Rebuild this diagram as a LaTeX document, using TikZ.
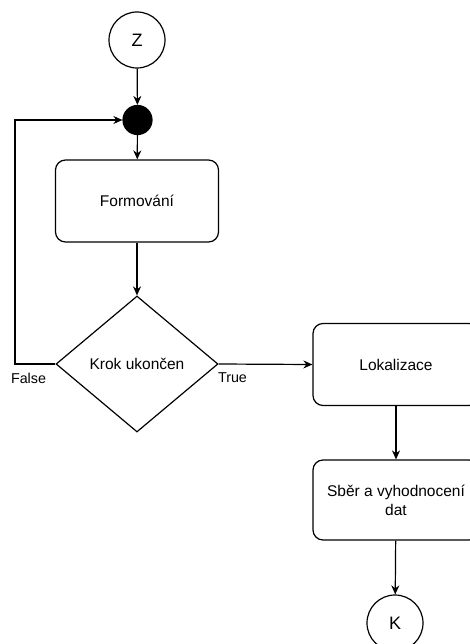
\documentclass[tikz,border=0pt]{standalone}
\usepackage{fontspec}
\setmainfont{Liberation Sans}
\usetikzlibrary{positioning}
\usetikzlibrary{arrows.meta}
\usetikzlibrary{shapes.geometric}

\begin{document}
\begin{tikzpicture}[x=1pt,y=-1pt,line width=1.2pt,>={Stealth[length=9pt,width=8pt]}]
\tikzstyle{term}=[draw,shape=circle,minimum size=56pt,inner sep=0pt,font=\fontsize{18}{20}\selectfont]
\tikzstyle{dot}=[draw,shape=circle,fill=black,minimum size=29pt,inner sep=0pt]
\tikzstyle{proc}=[draw,rounded corners=10pt,minimum width=163pt,minimum height=82pt,align=center,font=\fontsize{15.5}{19}\selectfont]
\tikzstyle{cond}=[draw,shape=diamond,minimum width=162pt,minimum height=136pt,inner sep=0pt,font=\fontsize{15.5}{19}\selectfont]
\tikzstyle{lbl}=[font=\fontsize{14.3}{16}\selectfont]

\useasboundingbox (0,0) rectangle (470,644); % page

% start and loop point
\draw (137,40) node[term] (Z) {Z}; % Z
\draw (137.5,120) node[dot] (join) {}; % join

% left column
\draw (137,201) node[proc] (form) {Formování}; % Formovani
\draw (137,364) node[cond] (krok) {Krok ukončen}; % Krok ukonceno

% right column
\draw (396,364.5) node[proc,minimum width=166pt] (lok) {Lokalizace}; % Lokalizace
\draw (396,500) node[proc,minimum width=166pt,minimum height=80pt] (sber) {Sběr a vyhodnocení\\dat}; % Sber
\draw (395,623) node[term] (K) {K}; % K

\coordinate (back) at (15,364); % corner of loop

\draw[->] (Z) -- (join);
\draw[->] (join) -- (form);
\draw[->] (form) -- (krok);
\draw[->] (krok.east) -- (lok.west);
\draw[->] (krok.west) -- (back) |- (join.west);
\draw[->] (lok) -- (sber);
\draw[->] (sber) -- (K);

\draw (28.5,378) node[lbl] (F) {False}; % False
\draw (232.5,378) node[lbl] (T) {True}; % True
\end{tikzpicture}
\end{document}
